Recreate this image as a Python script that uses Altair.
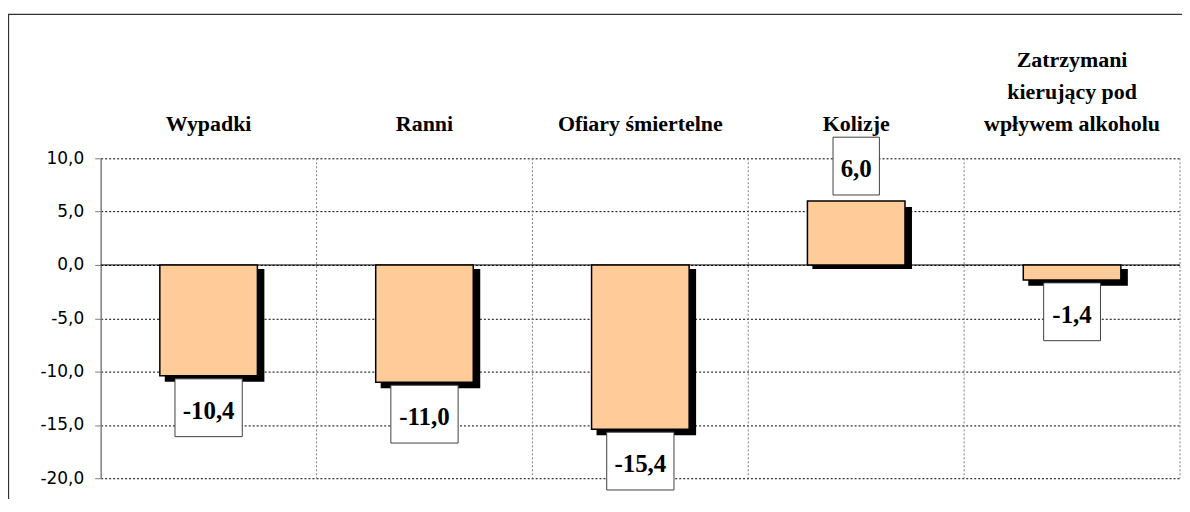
import altair as alt
import pandas as pd

# ---- data ----
categories = ["Wypadki", "Ranni", "Ofiary śmiertelne", "Kolizje",
              "Zatrzymani kierujący pod wpływem alkoholu"]
category_lines = [["Wypadki"], ["Ranni"], ["Ofiary śmiertelne"], ["Kolizje"],
                  ["Zatrzymani", "kierujący pod", "wpływem alkoholu"]]
values = [-10.4, -11.0, -15.4, 6.0, -1.4]
y_ticks = [-20, -15, -10, -5, 0, 5, 10]

# ---- layout ----
W, H = 1083, 321
Y_MIN, Y_MAX = -20, 10
n = len(categories)
px_x = W / n                  # pixels per category unit
px_y = H / (Y_MAX - Y_MIN)    # pixels per value unit
BAR_HALF = 0.226
BOX_H = 58
LABEL_GAP = 27      # px from plot top to last label baseline
LINE_H = 32.5       # px between label lines
SERIF = "Liberation Serif, DejaVu Serif, serif"

rows = []
for i, (c, v) in enumerate(zip(categories, values)):
    label = f"{v:.1f}".replace(".", ",")
    half_box = (10.5 * len(label) + 15) / 2 / px_x
    if v < 0:
        top = v - 3 / px_y
        bot = top - BOX_H / px_y
    else:
        bot = v + 6 / px_y
        top = bot + BOX_H / px_y
    rows.append(dict(cat=c, idx=i, value=v, base=0.0, label=label,
                     x0=i + 0.5 - BAR_HALF, x1=i + 0.5 + BAR_HALF, xc=i + 0.5,
                     bx0=i + 0.5 - half_box, bx1=i + 0.5 + half_box,
                     btop=top, bbot=bot, ty=(top + bot) / 2))
df = pd.DataFrame(rows)

cat_rows = []
for i, lines in enumerate(category_lines):
    k = len(lines)
    for j, line in enumerate(lines):
        cat_rows.append(dict(xc=i + 0.5, line=line,
                             ly=Y_MAX + (LABEL_GAP + (k - 1 - j) * LINE_H) / px_y))
cat_df = pd.DataFrame(cat_rows)

grid_df = pd.DataFrame({"b": list(range(1, n + 1))})
zero_df = pd.DataFrame({"z": [0.0]})
one_df = pd.DataFrame({"a": [0]})

xscale = alt.Scale(domain=[0, n], nice=False, zero=False)
yscale = alt.Scale(domain=[Y_MIN, Y_MAX], nice=False)

Y_AXIS = alt.Axis(values=y_ticks, labelExpr="datum.value + ',0'",
                  labelFont="DejaVu Sans", labelFontSize=17, labelColor="black",
                  labelPadding=11, tickSize=6, tickColor="#808080",
                  domainColor="#808080", domainWidth=1.5,
                  gridColor="black", gridDash=[2, 2], gridWidth=1, title=None)


def X(f):
    return alt.X(f"{f}:Q", scale=xscale, axis=None)


def Y(f):
    return alt.Y(f"{f}:Q", scale=yscale, axis=Y_AXIS)


frame = alt.Chart(one_df).mark_rect(
    fillOpacity=0, stroke="#333333", strokeWidth=1.3
).encode(x=alt.value(-92.5), x2=alt.value(W + 50),
         y=alt.value(-144.5), y2=alt.value(H + 60))

vgrid = alt.Chart(grid_df).mark_rule(
    color="#808080", strokeDash=[2, 2], strokeWidth=1
).encode(x=X("b"), y=alt.value(0), y2=alt.value(H))

zero = alt.Chart(zero_df).mark_rule(color="black", strokeWidth=1).encode(
    y=Y("z"), x=alt.value(0), x2=alt.value(W))

shadow = alt.Chart(df).mark_rect(
    color="black", xOffset=5, x2Offset=7, yOffset=6, y2Offset=4
).encode(x=X("x0"), x2="x1", y=Y("value"), y2="base")

bars = alt.Chart(df).mark_rect(
    fill="#FFCC99", stroke="black", strokeWidth=1.5
).encode(x=X("x0"), x2="x1", y=Y("value"), y2="base")

boxes = alt.Chart(df).mark_rect(
    fill="white", stroke="#404040", strokeWidth=1
).encode(x=X("bx0"), x2="bx1", y=Y("btop"), y2="bbot")

texts = alt.Chart(df).mark_text(
    font=SERIF, fontWeight="bold", fontSize=25,
    baseline="middle", align="center", dy=3, color="black"
).encode(x=X("xc"), y=Y("ty"), text="label:N")

cat_text = alt.Chart(cat_df).mark_text(
    font=SERIF, fontWeight="bold", fontSize=22,
    baseline="alphabetic", align="center", color="black"
).encode(x=X("xc"), y=Y("ly"), text="line:N")

chart = alt.layer(frame, vgrid, zero, shadow, bars, boxes, texts, cat_text).properties(
    width=W, height=H,
    autosize=alt.AutoSizeParams(type="none"),
    padding={"left": 93, "top": 150, "right": 2, "bottom": 20},
    background="white",
).configure_view(strokeWidth=0)

chart.save("out.html", embed_options={"renderer": "svg", "actions": False})
